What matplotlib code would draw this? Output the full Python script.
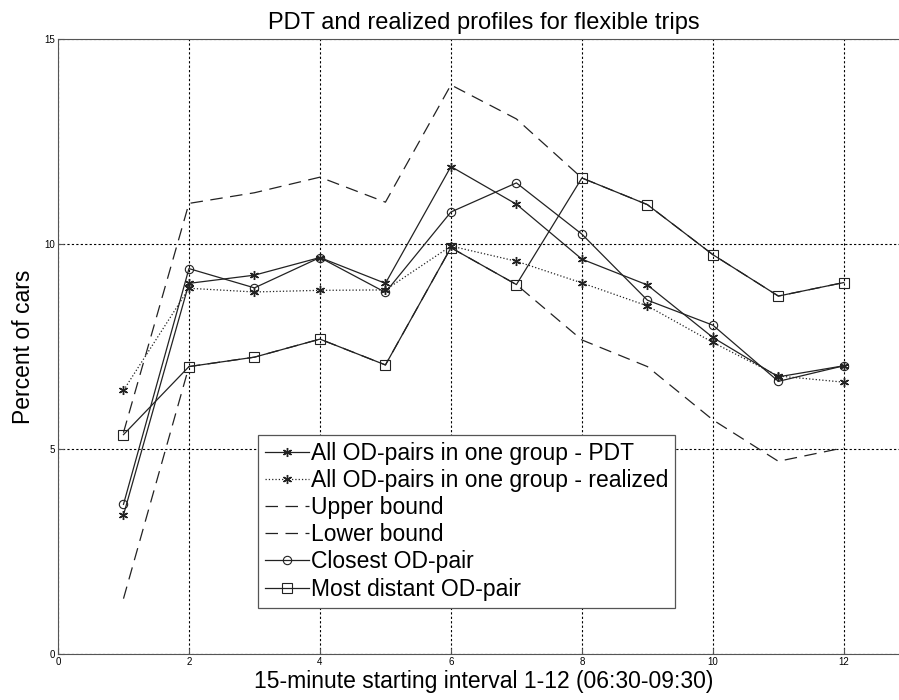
import matplotlib
matplotlib.use('Agg')
import matplotlib.pyplot as plt

plt.rcParams['font.family'] = ['Liberation Sans', 'DejaVu Sans']

# 15-minute intervals 1-12
intervals = [1, 2, 3, 4, 5, 6, 7, 8, 9, 10, 11, 12]

# percent of cars per interval
pdt_all = [3.39, 9.04, 9.24, 9.67, 9.04, 11.89, 10.97, 9.63, 9.00, 7.72, 6.76, 7.03]
realized_all = [6.43, 8.92, 8.83, 8.87, 8.88, 9.95, 9.58, 9.05, 8.49, 7.60, 6.78, 6.63]
upper_bound = [5.40, 10.99, 11.25, 11.63, 11.02, 13.88, 13.05, 11.61, 10.96, 9.74, 8.73, 9.06]
lower_bound = [1.35, 7.01, 7.24, 7.68, 7.05, 9.91, 9.01, 7.66, 7.01, 5.71, 4.70, 5.03]
closest_od = [3.65, 9.40, 8.93, 9.67, 8.82, 10.78, 11.49, 10.24, 8.63, 8.02, 6.65, 7.03]
distant_od = [5.35, 7.01, 7.24, 7.68, 7.05, 9.91, 9.01, 11.61, 10.96, 9.74, 8.73, 9.06]

x_ticks = [0, 2, 4, 6, 8, 10, 12]
y_ticks = [0, 5, 10, 15]

fig = plt.figure(figsize=(8.99, 7.0), dpi=100)
# axes run slightly past the right edge, like the original export
ax = fig.add_axes([0.0645, 0.0657, 0.947, 0.8786])

lc = '#222222'
star = (6, 2, 0)  # thin asterisk like the matlab '*'
ax.plot(intervals, pdt_all, '-', marker=star, color=lc, lw=0.9, ms=6.5, mew=1.0,
        label='All OD-pairs in one group - PDT')
ax.plot(intervals, realized_all, ':', marker=star, color=lc, lw=0.9, ms=6.5, mew=1.0,
        label='All OD-pairs in one group - realized')
ax.plot(intervals, upper_bound, color=lc, lw=0.9, linestyle=(0, (10, 6)),
        label='Upper bound')
ax.plot(intervals, lower_bound, color=lc, lw=0.9, linestyle=(0, (10, 6)),
        label='Lower bound')
ax.plot(intervals, closest_od, '-', marker='o', color=lc, lw=0.9, ms=6,
        mfc='none', mew=0.8, label='Closest OD-pair')
ax.plot(intervals, distant_od, '-', marker='s', color=lc, lw=0.9, ms=6.5,
        mfc='none', mew=0.8, label='Most distant OD-pair')

ax.set_xlim(0, 13)
ax.set_ylim(0, 15)
ax.set_xticks(x_ticks)
ax.set_yticks(y_ticks)
ax.grid(True, linestyle=(0, (2, 2)), color='black', lw=0.8)
ax.tick_params(direction='in', length=4, labelsize=7, pad=2, color='#555555')

for side in ['left', 'bottom', 'top']:
    ax.spines[side].set_color('#555555')
ax.spines['right'].set_visible(False)

ax.set_title('PDT and realized profiles for flexible trips', fontsize=17, pad=7)
ax.set_xlabel('15-minute starting interval 1-12 (06:30-09:30)', fontsize=16.5, labelpad=2)
ax.set_ylabel('Percent of cars', fontsize=16.5, labelpad=7)

leg = ax.legend(loc='lower left', bbox_to_anchor=(0.235, 0.075), fontsize=16.5,
                fancybox=False, framealpha=1, edgecolor='#555555',
                handlelength=1.9, handletextpad=0.08, borderpad=0.32,
                labelspacing=0.18, borderaxespad=0)
leg.get_frame().set_linewidth(0.9)

plt.savefig('out.png', dpi=100)
